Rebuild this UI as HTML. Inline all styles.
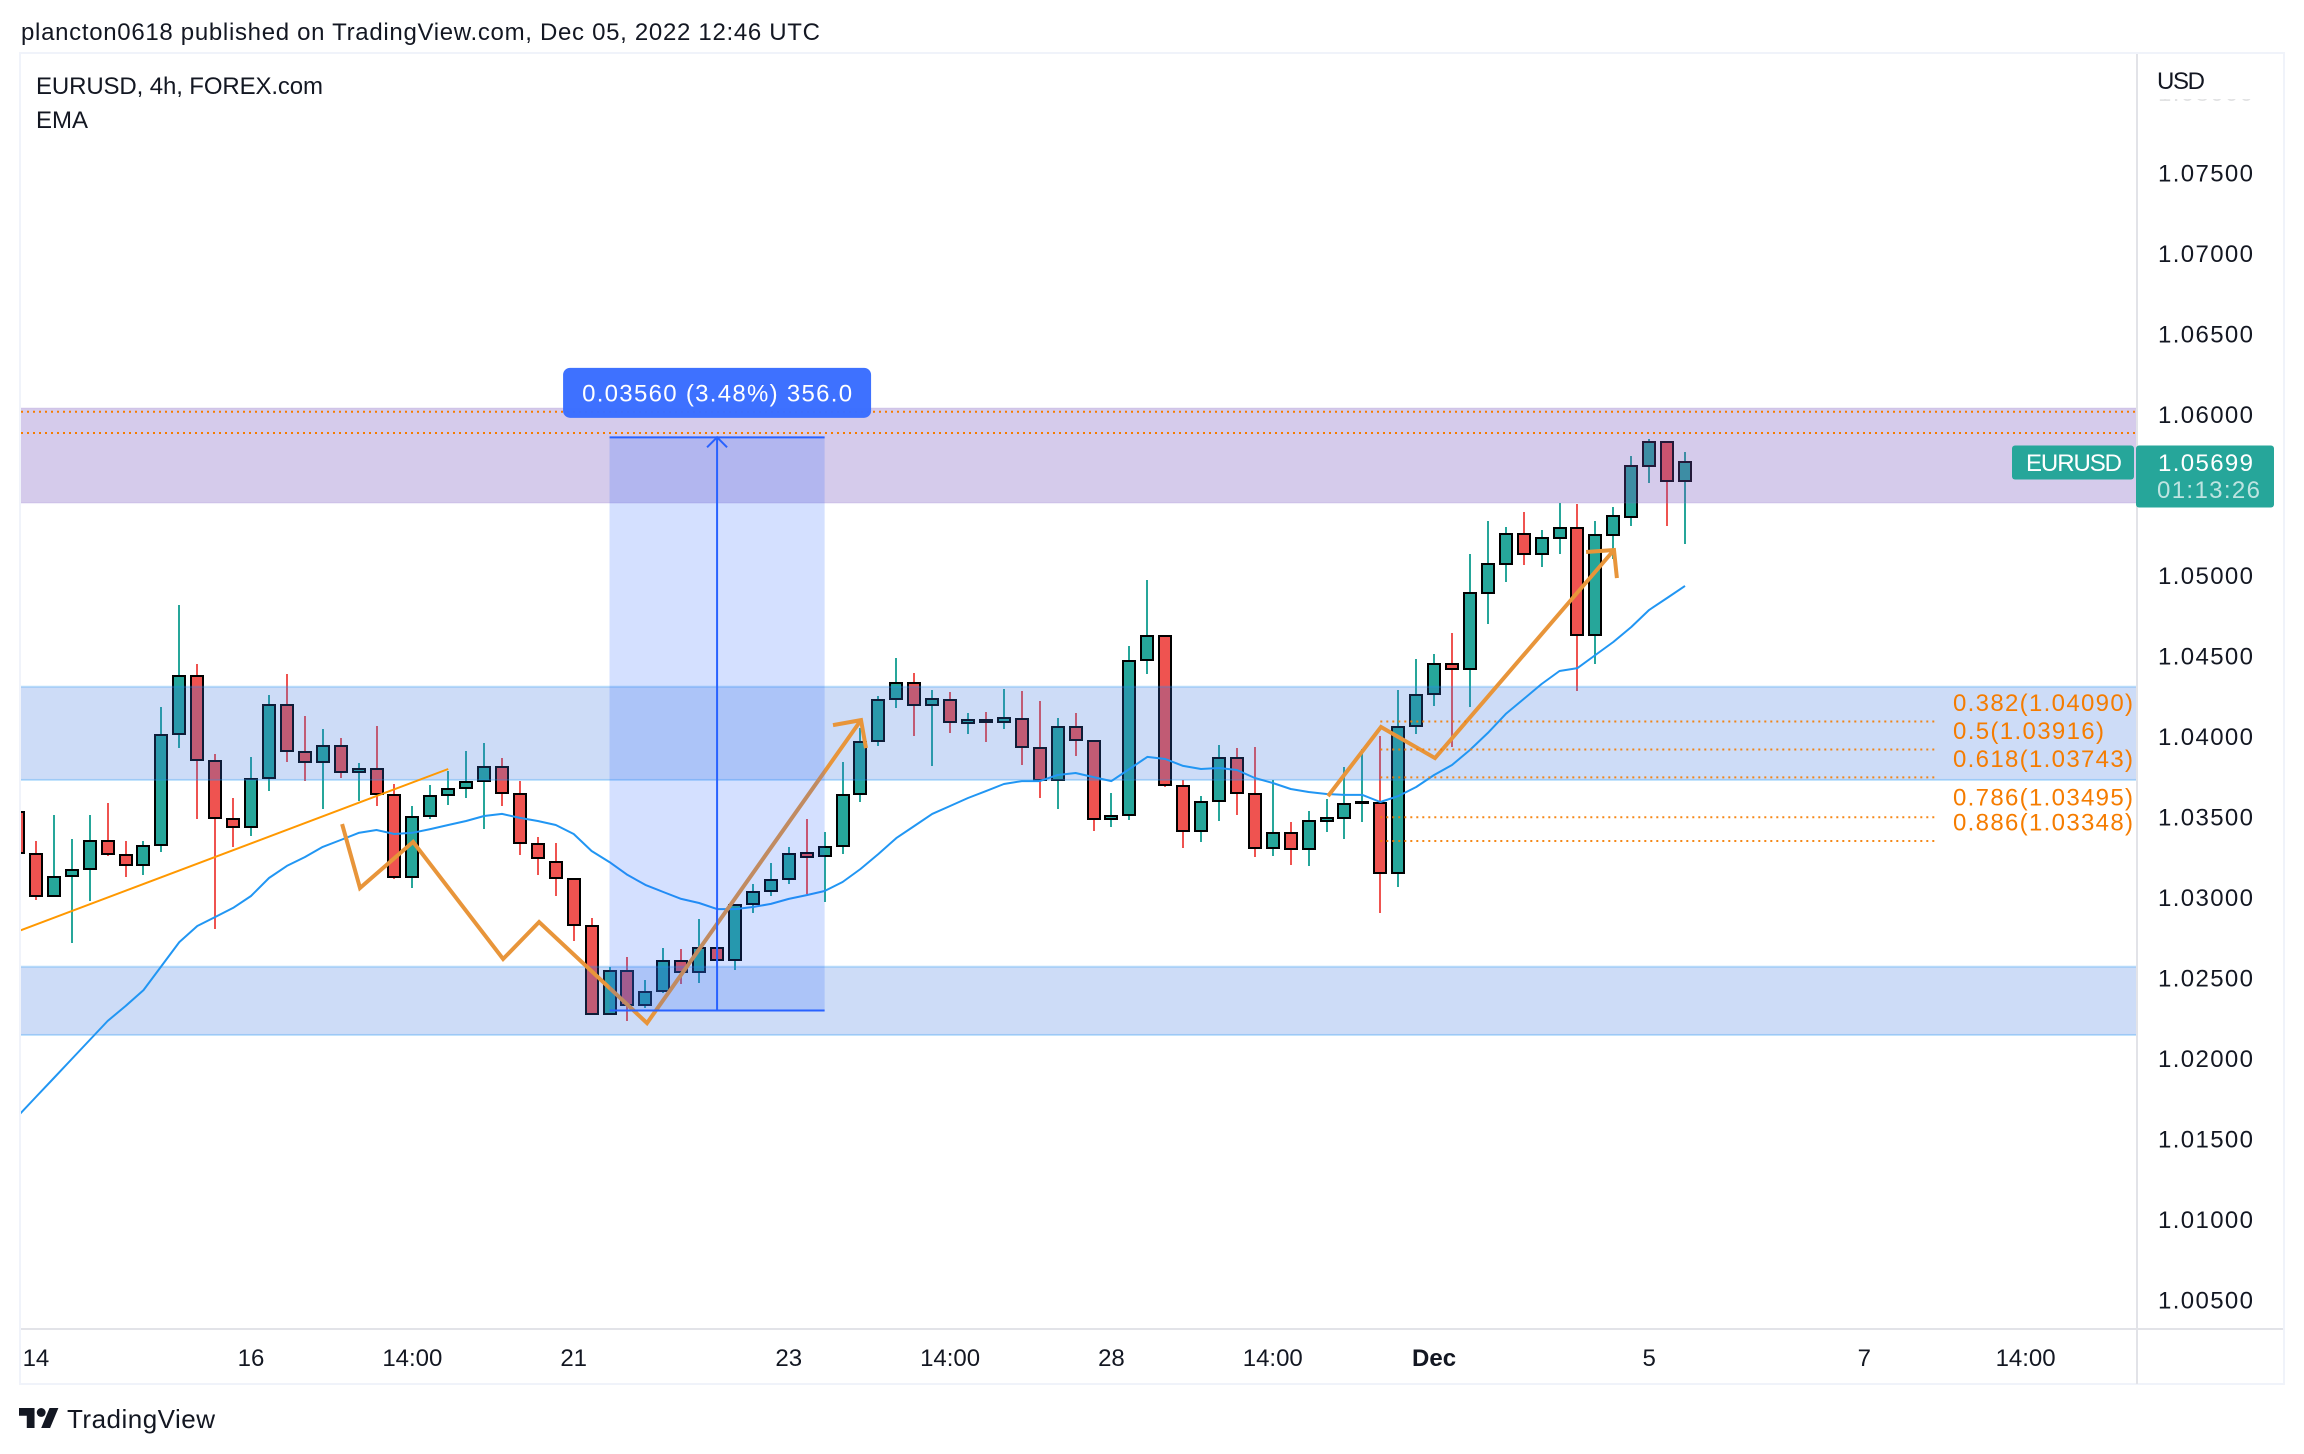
<!DOCTYPE html>
<html lang="en">
<head>
<meta charset="utf-8">
<title>EURUSD 4h chart</title>
<style>
html,body{margin:0;padding:0;background:#fff;width:2304px;height:1454px;overflow:hidden}
svg{display:block;font-family:"Liberation Sans",sans-serif}
text{fill:#131722;font-size:24px}
</style>
</head>
<body>
<svg id="chart" width="2304" height="1454" viewBox="0 0 2304 1454" xmlns="http://www.w3.org/2000/svg">
  <defs>
    <clipPath id="plot-clip"><rect x="21" y="54" width="2115" height="1275"></rect></clipPath>
    <clipPath id="top-tick-clip"><rect x="2140" y="99" width="140" height="6"></rect></clipPath>
  </defs>
  <text x="21" y="40" textLength="799" lengthAdjust="spacing">plancton0618 published on TradingView.com, Dec 05, 2022 12:46 UTC</text>
  <rect x="20" y="53" width="2264" height="1331" fill="none" stroke="#f0f3fa" stroke-width="2"></rect>
  <g id="plot" clip-path="url(#plot-clip)"></g>
  <line x1="2137" y1="54" x2="2137" y2="1384" stroke="#e2e3e8" stroke-width="2"></line>
  <line x1="21" y1="1329" x2="2283" y2="1329" stroke="#e2e3e8" stroke-width="2"></line>
  <text x="36" y="94" textLength="287" lengthAdjust="spacing">EURUSD, 4h, FOREX.com</text>
  <text x="36" y="128">EMA</text>
  <text x="2157" y="89" textLength="48" lengthAdjust="spacing">USD</text>
  <text clip-path="url(#top-tick-clip)" x="2158" y="101" textLength="95" lengthAdjust="spacing" opacity="0.12">1.08000</text>
  <g id="axes"></g>
  <g id="overlay"></g>
  <g transform="translate(19 1403.6) scale(1.11)" fill="#131722">
    <path d="M14 22H7V11H0V4h14v18zM28 22h-8l7.5-18h8L28 22z"></path><circle cx="20" cy="8" r="4"></circle>
  </g>
  <text x="67" y="1428" font-size="26" style="font-size:26px" textLength="148" lengthAdjust="spacing">TradingView</text>
</svg>
<script>
// ---- data -----------------------------------------------------------------
const opens = [1.03528,1.03269,1.03006,1.03130,1.03172,1.03350,1.03263,1.03197,1.03321,1.04011,
1.04375,1.03847,1.03486,1.03433,1.03737,1.04194,1.03902,1.03837,1.03940,1.03775,
1.03797,1.03635,1.03124,1.03501,1.03632,1.03675,1.03719,1.03809,1.03642,1.03331,
1.03219,1.03114,1.02822,1.02271,1.02542,1.02329,1.02414,1.02602,1.02532,1.02685,
1.02609,1.02955,1.03037,1.03110,1.03271,1.03253,1.03315,1.03638,1.03967,1.04228,
1.04331,1.04191,1.04225,1.04081,1.04099,1.04089,1.04107,1.03927,1.03727,1.04058,
1.03971,1.03483,1.03507,1.04470,1.04621,1.03691,1.03408,1.03596,1.03865,1.03642,
1.03304,1.03399,1.03298,1.03475,1.03491,1.03581,1.03586,1.03147,1.04062,1.04259,
1.04449,1.04414,1.04886,1.05066,1.05253,1.05129,1.05228,1.05290,1.04625,1.05247,
1.05362,1.05675,1.05824,1.05586];
const highs = [1.03528,1.03348,1.03509,1.03360,1.03509,1.03584,1.03348,1.03348,1.04180,1.04814,
1.04447,1.03888,1.03615,1.03870,1.04255,1.04385,1.04124,1.04043,1.03988,1.03832,
1.04062,1.03702,1.03565,1.03696,1.03783,1.03907,1.03957,1.03863,1.03720,1.03373,
1.03335,1.03118,1.02870,1.02565,1.02627,1.02484,1.02683,1.02677,1.02863,1.02913,
1.02950,1.03081,1.03211,1.03311,1.03484,1.03404,1.03839,1.04050,1.04248,1.04484,
1.04391,1.04286,1.04273,1.04143,1.04149,1.04292,1.04280,1.04217,1.04112,1.04143,
1.03975,1.03646,1.04559,1.04969,1.04621,1.03727,1.03627,1.03944,1.03925,1.03932,
1.03727,1.03466,1.03534,1.03609,1.03807,1.03919,1.04000,1.04286,1.04478,1.04509,
1.04640,1.05130,1.05335,1.05298,1.05391,1.05279,1.05447,1.05441,1.05335,1.05422,
1.05739,1.05845,1.05826,1.05764];
const lows = [1.03271,1.02981,1.03006,1.02716,1.02977,1.03255,1.03126,1.03137,1.03280,1.03925,
1.03486,1.02801,1.03311,1.03379,1.03658,1.03839,1.03720,1.03547,1.03739,1.03596,
1.03565,1.03112,1.03056,1.03484,1.03571,1.03615,1.03424,1.03565,1.03261,1.03137,
1.03006,1.02727,1.02271,1.02271,1.02230,1.02311,1.02406,1.02460,1.02466,1.02565,
1.02547,1.02901,1.03006,1.03081,1.03019,1.02969,1.03267,1.03590,1.03938,1.04174,
1.04000,1.03814,1.04019,1.04012,1.03963,1.04043,1.03820,1.03615,1.03547,1.03876,
1.03410,1.03435,1.03478,1.04385,1.03683,1.03304,1.03342,1.03472,1.03509,1.03248,
1.03255,1.03199,1.03193,1.03404,1.03360,1.03466,1.02901,1.03062,1.04012,1.04186,
1.03932,1.04180,1.04696,1.04957,1.05062,1.05050,1.05130,1.04280,1.04447,1.05099,
1.05304,1.05571,1.05304,1.05193];
const closes = [1.03271,1.03006,1.03126,1.03170,1.03350,1.03265,1.03197,1.03319,1.04008,1.04375,
1.03849,1.03489,1.03433,1.03735,1.04194,1.03905,1.03837,1.03940,1.03775,1.03797,
1.03638,1.03124,1.03499,1.03629,1.03673,1.03716,1.03809,1.03644,1.03334,1.03240,
1.03116,1.02824,1.02271,1.02542,1.02327,1.02412,1.02602,1.02532,1.02685,1.02607,
1.02950,1.03033,1.03107,1.03269,1.03250,1.03312,1.03635,1.03965,1.04225,1.04331,
1.04191,1.04228,1.04085,1.04101,1.04087,1.04110,1.03930,1.03727,1.04058,1.03973,
1.03483,1.03505,1.04468,1.04621,1.03694,1.03408,1.03592,1.03865,1.03644,1.03304,
1.03399,1.03298,1.03474,1.03491,1.03580,1.03587,1.03147,1.04058,1.04257,1.04449,
1.04416,1.04886,1.05066,1.05253,1.05129,1.05228,1.05290,1.04625,1.05247,1.05365,
1.05675,1.05824,1.05586,1.05699];
const emaValues = [1.01640,1.01758,1.01876,1.01994,1.02112,1.02230,1.02323,1.02422,1.02571,1.02720,
1.02820,1.02876,1.02932,1.03006,1.03118,1.03193,1.03248,1.03311,1.03354,1.03398,
1.03416,1.03391,1.03399,1.03422,1.03447,1.03472,1.03503,1.03516,1.03491,1.03472,
1.03447,1.03391,1.03286,1.03217,1.03137,1.03075,1.03031,1.02988,1.02963,1.02925,
1.02925,1.02938,1.02957,1.02988,1.03012,1.03037,1.03093,1.03174,1.03267,1.03366,
1.03441,1.03516,1.03565,1.03615,1.03658,1.03702,1.03720,1.03720,1.03758,1.03770,
1.03745,1.03720,1.03795,1.03870,1.03857,1.03814,1.03795,1.03801,1.03789,1.03739,
1.03708,1.03671,1.03652,1.03640,1.03634,1.03634,1.03590,1.03627,1.03683,1.03758,
1.03820,1.03913,1.04019,1.04137,1.04230,1.04323,1.04404,1.04422,1.04503,1.04584,
1.04677,1.04783,1.04857,1.04932];
const priceTicks = [1.075,1.07,1.065,1.06,1.055,1.05,1.045,1.04,1.035,1.03,1.025,1.02,1.015,1.01,1.005];
const hiddenPriceTicks = [1.055];
const timeBars = [1,13,22,31,43,52,61,70,79,91,103,112];
const timeLabels = ["14","16","14:00","21","23","14:00","28","14:00","Dec","5","7","14:00"];
const zoneTops = [1.04306,1.02567];
const zoneBottoms = [1.03727,1.02143];
const purpleZoneTop = 1.06037;
const purpleZoneBottom = 1.05447;
const resistanceLevels = [1.06014,1.05882];
const fibRatios = ["0.382","0.5","0.618","0.786","0.886"];
const fibPrices = [1.04090,1.03916,1.03743,1.03495,1.03348];
const fibStartBar = 76;
const fibEndBar = 106.95;
const trendBars = [0.11,24];
const trendPrices = [1.02791,1.03795];
const zigzagOneBars = [18.08,19.08,22.04,27.06,29.07,35.09,47.03];
const zigzagOnePrices = [1.03453,1.03056,1.03342,1.02615,1.02845,1.02217,1.04099];
const headOneBars = [45.47,47.03,47.31];
const headOnePrices = [1.04068,1.04099,1.03925];
const zigzagTwoBars = [73.08,76.04,79.05,89.04];
const zigzagTwoPrices = [1.03627,1.04056,1.03863,1.05155];
const headTwoBars = [87.48,89.04,89.2];
const headTwoPrices = [1.05143,1.05155,1.04981];
const measureStartBar = 33;
const measureEndBar = 45;
const measureLow = 1.02295;
const measureHigh = 1.05855;
const measureLabel = "0.03560 (3.48%) 356.0";
const lastPrice = 1.05699;
const lastPriceLabel = "1.05699";
const countdownLabel = "01:13:26";
const symbolLabel = "EURUSD";

// ---- axis functions -------------------------------------------------------
function xAt(bar){ return 18 + 17.925 * bar; }
function yAt(price){ return 736 + (1.04 - price) * 16100; }
const NS = "http://www.w3.org/2000/svg";
function mk(tag, attrs, parent){
  const el = document.createElementNS(NS, tag);
  for (const k in attrs) el.setAttribute(k, attrs[k]);
  parent.appendChild(el);
  return el;
}
function polyPoints(bars, prices){
  return bars.map(function(b, i){ return xAt(b).toFixed(1) + "," + yAt(prices[i]).toFixed(1); }).join(" ");
}
const plot = document.getElementById("plot");
const axes = document.getElementById("axes");
const overlay = document.getElementById("overlay");
const GREEN = "#26a69a", RED = "#ef5350", ORANGE = "#f57c00", BLUE = "#2962ff";

// ---- candles --------------------------------------------------------------
closes.forEach(function(c, i){
  const o = opens[i];
  const up = c >= o;
  const col = up ? GREEN : RED;
  const cx = Math.round(xAt(i));
  const g = mk("g", {}, plot);
  
  
  const wick = mk("line", {x1: cx, x2: cx, y1: Math.round(yAt(highs[i])), y2: Math.round(yAt(lows[i])), stroke: col, "stroke-width": 2, "shape-rendering": "crispEdges"}, g);
  
  
  const top = Math.round(yAt(Math.max(o, c)));
  const bot = Math.round(yAt(Math.min(o, c)));
  const body = mk("rect", {x: cx - 6, width: 12, y: top, height: Math.max(bot - top, 1), fill: col, stroke: "#000", "stroke-width": 2, "shape-rendering": "crispEdges"}, g);
  
  
});

// ---- zones ----------------------------------------------------------------
zoneTops.forEach(function(t, i){
  const z = mk("rect", {x: 10, width: 2140, y: yAt(t), height: yAt(zoneBottoms[i]) - yAt(t), fill: "rgba(56,116,224,0.25)", stroke: "rgba(33,150,243,0.28)", "stroke-width": 2}, plot);
  
  
});
const purple = mk("rect", {x: 10, width: 2140, y: yAt(purpleZoneTop), height: yAt(purpleZoneBottom) - yAt(purpleZoneTop), fill: "rgba(115,82,188,0.3)", stroke: "rgba(150,120,210,0.1)", "stroke-width": 2}, plot);



// ---- EMA ------------------------------------------------------------------
const emaLine = mk("polyline", {points: polyPoints(emaValues.map(function(v, i){ return i; }), emaValues), fill: "none", stroke: "#2196f3", "stroke-width": 2, "stroke-linejoin": "round"}, plot);



// ---- drawings -------------------------------------------------------------
const trend = mk("polyline", {points: polyPoints(trendBars, trendPrices), fill: "none", stroke: "#ff9800", "stroke-width": 2}, plot);


[[zigzagOneBars, zigzagOnePrices, 'zigzag-one'], [headOneBars, headOnePrices, 'zigzag-one-arrowhead'], [zigzagTwoBars, zigzagTwoPrices, 'zigzag-two'], [headTwoBars, headTwoPrices, 'zigzag-two-arrowhead']].forEach(function(d){
  const z = mk("polyline", {points: polyPoints(d[0], d[1]), fill: "none", stroke: "#e8953a", "stroke-width": 4, "stroke-linejoin": "miter"}, plot);
  
  
});
resistanceLevels.forEach(function(p){
  const l = mk("line", {x1: 21, x2: 2136, y1: yAt(p), y2: yAt(p), stroke: ORANGE, "stroke-width": 2, "stroke-dasharray": "2 4"}, plot);
  
  
});
fibPrices.forEach(function(p, i){
  const l = mk("line", {x1: xAt(fibStartBar), x2: xAt(fibEndBar), y1: yAt(p), y2: yAt(p), stroke: ORANGE, "stroke-width": 2, "stroke-dasharray": "2 4", opacity: 0.9}, plot);
  
  
  const t = mk("text", {x: 1953, y: yAt(p) - (i === 3 ? 12 : 10.5), textLength: fibRatios[i].length > 3 ? 180 : 151, lengthAdjust: "spacing", style: "fill:#f57c00"}, overlay);
  t.textContent = fibRatios[i] + "(" + p.toFixed(5) + ")";
  
  
});

// ---- measure tool ---------------------------------------------------------
const mx0 = xAt(measureStartBar), mx1 = xAt(measureEndBar), mxMid = xAt((measureStartBar + measureEndBar) / 2);
const my0 = yAt(measureHigh), my1 = yAt(measureLow);
const mBox = mk("rect", {x: mx0, width: mx1 - mx0, y: my0, height: my1 - my0, fill: "rgba(41,98,255,0.2)"}, plot);


const mTop = mk("line", {x1: mx0, x2: mx1, y1: my0, y2: my0, stroke: BLUE, "stroke-width": 2}, plot);


const mBot = mk("line", {x1: mx0, x2: mx1, y1: my1, y2: my1, stroke: BLUE, "stroke-width": 2}, plot);


const mVert = mk("line", {x1: mxMid, x2: mxMid, y1: my0, y2: my1, stroke: BLUE, "stroke-width": 2}, plot);


const mHead = mk("polyline", {points: (mxMid - 10) + "," + (my0 + 10) + " " + mxMid + "," + my0 + " " + (mxMid + 10) + "," + (my0 + 10), fill: "none", stroke: BLUE, "stroke-width": 2}, plot);


const mLabelBox = mk("rect", {x: mxMid - 154, y: my0 - 69.5, width: 308, height: 50, rx: 7, fill: "#3a6eff", "fill-opacity": 0.98}, overlay);


const mLabelText = mk("text", {x: mxMid - 135, y: my0 - 36, textLength: 270, lengthAdjust: "spacing", style: "fill:#fff"}, overlay);
mLabelText.textContent = measureLabel;



// ---- axes -----------------------------------------------------------------
priceTicks.forEach(function(p){
  if (hiddenPriceTicks.indexOf(p) >= 0) return;
  const t = mk("text", {x: 2158, y: yAt(p) + 9, textLength: 95, lengthAdjust: "spacing"}, axes);
  t.textContent = p.toFixed(5);
  
  
});
timeLabels.forEach(function(lab, i){
  const t = mk("text", {x: xAt(timeBars[i]), y: 1366, "text-anchor": "middle", style: lab === "Dec" ? "font-weight:bold" : ""}, axes);
  t.textContent = lab;
  
  
});

// ---- last price tags ------------------------------------------------------
const tagY = yAt(lastPrice);
const symTag = mk("rect", {x: 2012, y: tagY - 17, width: 122, height: 34, rx: 3, fill: GREEN}, overlay);


const symText = mk("text", {x: 2026, y: tagY + 8.5, textLength: 96, lengthAdjust: "spacing", style: "fill:#fff"}, overlay);
symText.textContent = symbolLabel;


const priceTag = mk("rect", {x: 2136, y: tagY - 17, width: 138, height: 62, rx: 3, fill: GREEN}, overlay);


const priceText = mk("text", {x: 2158, y: tagY + 8.5, textLength: 95, lengthAdjust: "spacing", style: "fill:#fff"}, overlay);
priceText.textContent = lastPriceLabel;


const cdText = mk("text", {x: 2157, y: tagY + 35.5, textLength: 103, lengthAdjust: "spacing", style: "fill:rgba(255,255,255,0.7)"}, overlay);
cdText.textContent = countdownLabel;


</script>
</body>
</html>
